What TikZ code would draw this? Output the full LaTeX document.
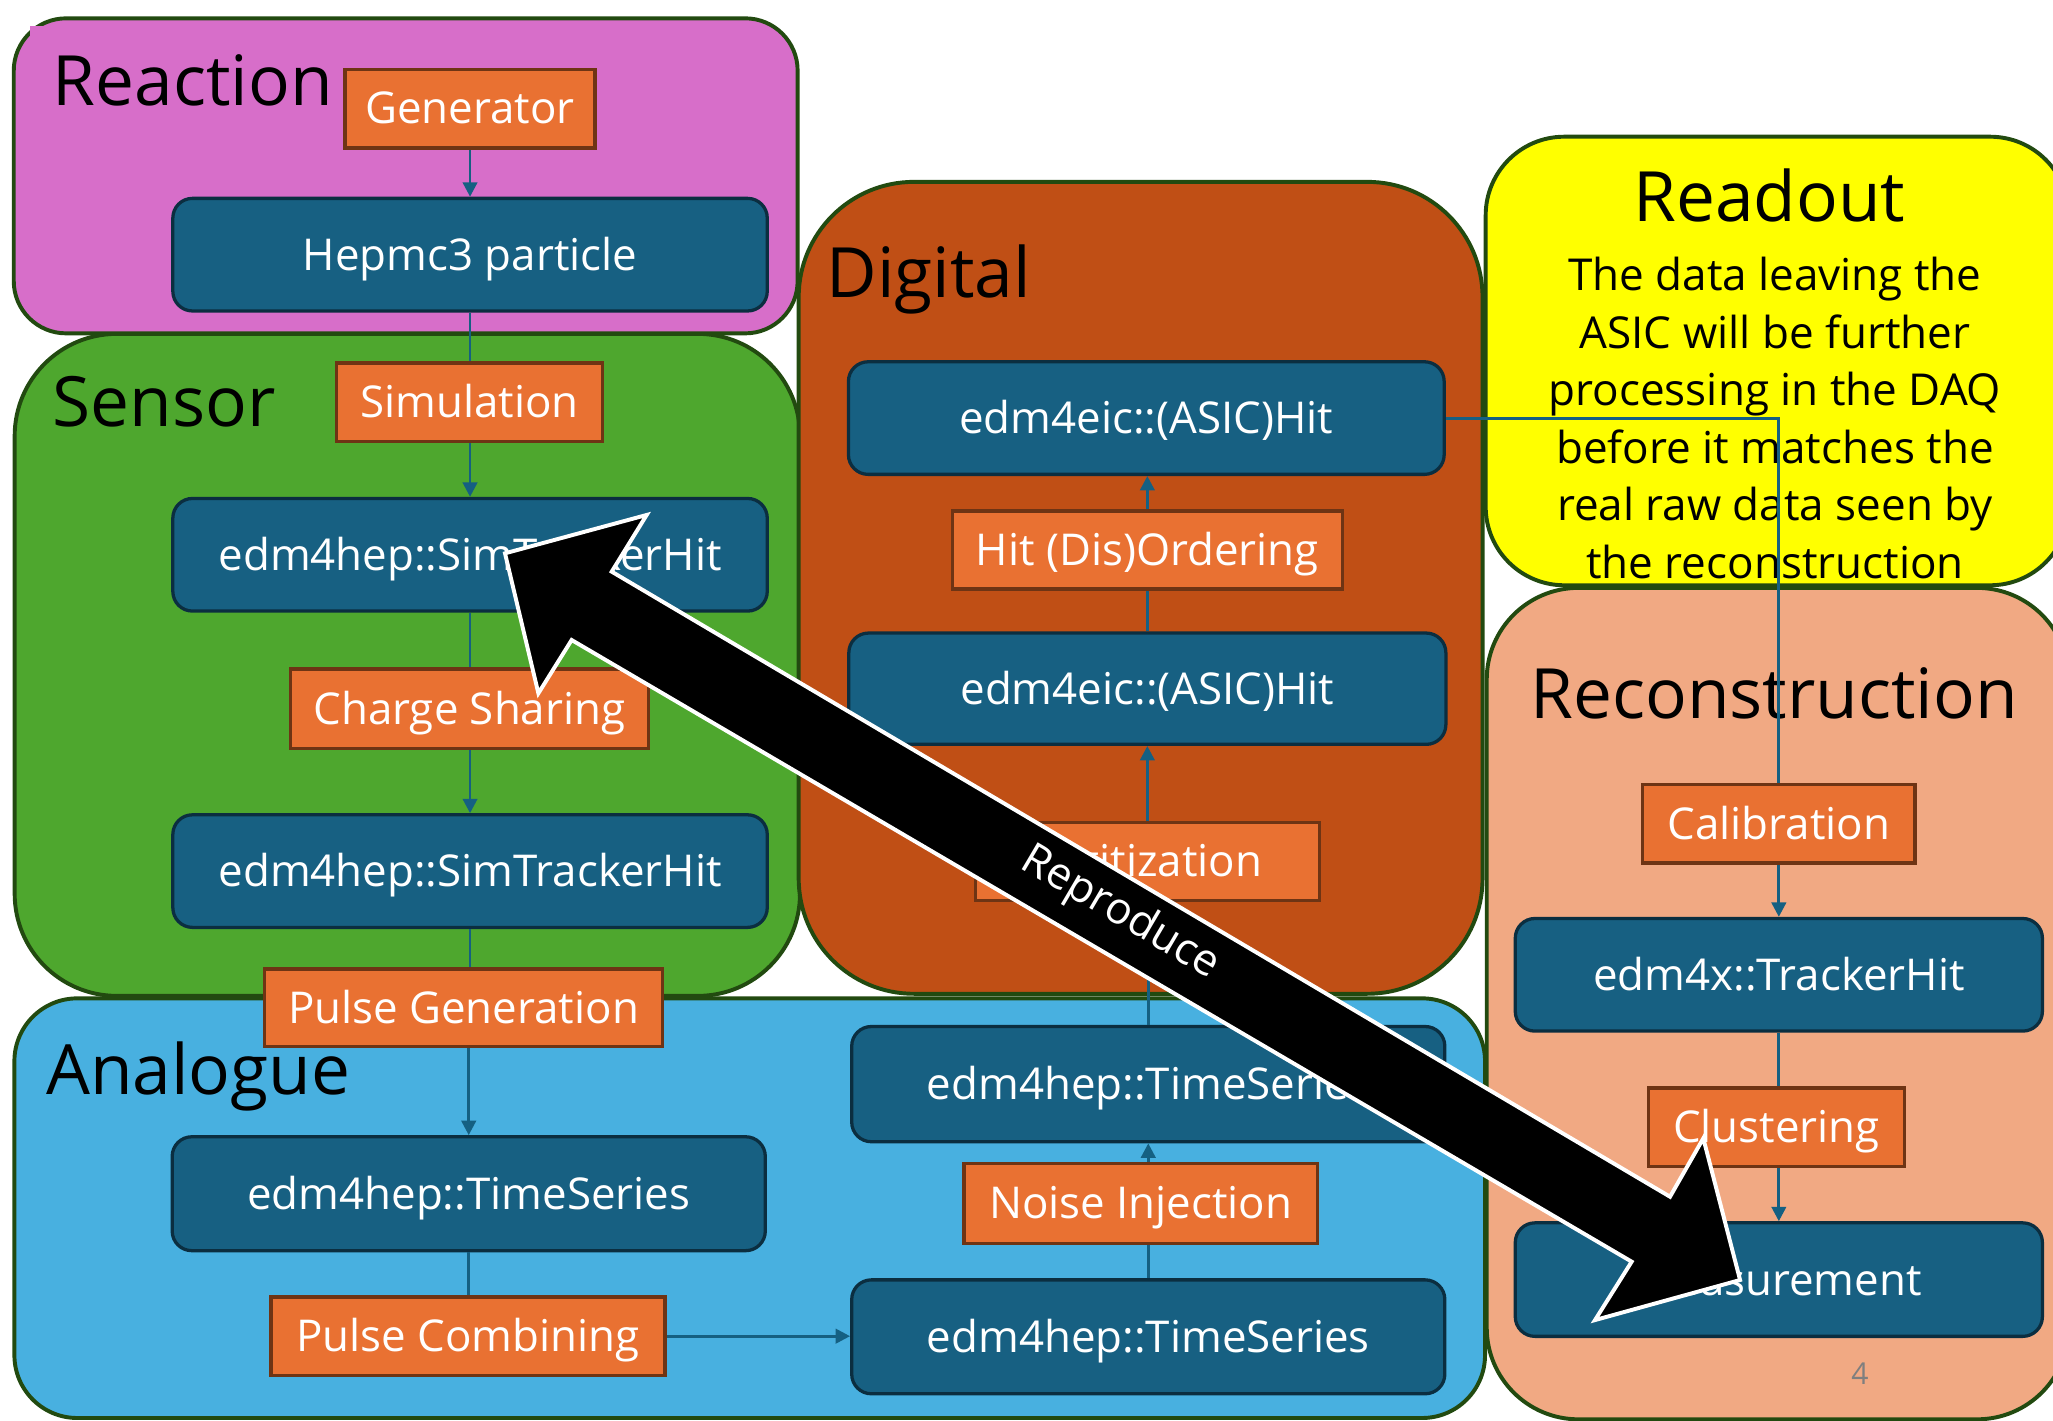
\documentclass[tikz,border=0pt]{standalone}
\usepackage{fontspec}
\setmainfont{Open Sans}
\usetikzlibrary{arrows.meta}
\definecolor{reactfill}{HTML}{D76EC9}
\definecolor{sensfill}{HTML}{4EA72E}
\definecolor{digifill}{HTML}{C04F15}
\definecolor{analfill}{HTML}{48B0E0}
\definecolor{readfill}{HTML}{FFFF00}
\definecolor{recofill}{HTML}{F1A983}
\definecolor{grpborder}{HTML}{224A10}
\definecolor{nodeblue}{HTML}{176082}
\definecolor{nodeborder}{HTML}{0B2E40}
\definecolor{procorange}{HTML}{E97132}
\definecolor{procborder}{HTML}{6E3414}
\definecolor{connblue}{HTML}{156082}
\definecolor{pagegray}{HTML}{7F7F7F}
\newcommand\lblf{\fontsize{33.5}{40}\selectfont}
\newcommand\ttlf{\fontsize{53}{60}\selectfont}
\newcommand\bodyf{\fontsize{33.6}{43.9}\selectfont}
\newcommand\pagef{\fontsize{23}{26}\selectfont}
\begin{document}
\begin{tikzpicture}[x=1pt,y=-1pt,
  group/.style={rectangle, draw=grpborder, line width=3pt, inner sep=0pt},
  datanode/.style={rectangle, rounded corners=15pt, fill=nodeblue, draw=nodeborder, line width=2.5pt, text=white, font=\lblf, inner sep=0pt, text height=31pt, text depth=7.2pt},
  proc/.style={rectangle, fill=procorange, draw=procborder, line width=2.5pt, text=white, font=\lblf, inner sep=0pt, text height=31pt, text depth=7.6pt},
  conn/.style={draw=connblue, line width=2.2pt},
  arr/.style={conn, -{Triangle[width=11pt,length=11pt]}},
  title/.style={font=\ttlf, text=black, inner sep=0pt}]
\useasboundingbox (0,0) rectangle (1568,1085);
\clip (0,0) rectangle (1568,1085);
% group boxes
\node[group, fill=sensfill, rounded corners=78pt, minimum width=599.8pt, minimum height=505.6pt] (sensor) at (311.1,507.8) {};
\node[group, fill=reactfill, rounded corners=40pt, minimum width=598.7pt, minimum height=240.6pt] (reaction) at (309.85,134.3) {};
\fill[reactfill] (23,20) rectangle (34,30);
\node[group, fill=digifill, rounded corners=88pt, minimum width=522.3pt, minimum height=620.1pt] (digital) at (871.15,448.95) {};
\node[group, fill=analfill, rounded corners=48pt, minimum width=1123.2pt, minimum height=320.5pt] (analogue) at (572.6,922.75) {};
\node[group, fill=readfill, rounded corners=60pt, minimum width=445.3pt, minimum height=342.6pt] (readout) at (1357.35,275.7) {};
\node[group, fill=recofill, rounded corners=70pt, minimum width=444.5pt, minimum height=635pt] (recon) at (1357.75,766.5) {};
% titles
\node[title, anchor=base west] (treaction) at (40,80.2) {Reaction};
\node[title, anchor=base west] (tsensor) at (40,325.8) {Sensor};
\node[title, anchor=base west] (tdigital) at (631,227) {Digital};
\node[title, anchor=base west] (tanalogue) at (35,836.3) {Analogue};
\node[title, anchor=base] (treadout) at (1351.3,169.3) {Readout};
\node[title, anchor=base] (trecon) at (1354.9,548.5) {Reconstruction};
\node[anchor=base, align=center, font=\bodyf, inner sep=0pt] (readtext) at (1355.6,441.7) {The data leaving the\\ASIC will be further\\processing in the DAQ\\before it matches the\\real raw data seen by\\the reconstruction};
% data nodes
\node[datanode, minimum width=454pt, minimum height=86pt] (hep) at (359,194.5) {Hepmc3 particle};
\node[datanode, minimum width=454pt, minimum height=86pt] (sim1) at (359,423.7) {edm4hep::SimTrackerHit};
\node[datanode, minimum width=454pt, minimum height=86pt] (sim2) at (359,665.3) {edm4hep::SimTrackerHit};
\node[datanode, minimum width=453pt, minimum height=87pt] (ts1) at (358,911.7) {edm4hep::TimeSeries};
\node[datanode, minimum width=453pt, minimum height=88pt] (ts3) at (877,828) {edm4hep::TimeSeries};
\node[datanode, minimum width=453pt, minimum height=87pt] (ts2) at (877,1021) {edm4hep::TimeSeries};
\node[datanode, minimum width=456pt, minimum height=85pt] (asic2) at (876.3,526) {edm4eic::(ASIC)Hit};
\node[datanode, minimum width=455pt, minimum height=86pt] (asic1) at (875.5,319.3) {edm4eic::(ASIC)Hit};
\node[datanode, minimum width=402.6pt, minimum height=86pt] (trk) at (1358.6,744.5) {edm4x::TrackerHit};
\node[datanode, minimum width=402.6pt, minimum height=86.7pt] (meas) at (1358.6,977.3) {Measurement};
% process nodes
\node[proc, minimum width=191pt, minimum height=60pt] (gen) at (359,83) {Generator};
\node[proc, minimum width=203pt, minimum height=60pt] (simu) at (358.5,307.2) {Simulation};
\node[proc, minimum width=273.6pt, minimum height=60.6pt] (charge) at (358.5,541.3) {Charge Sharing};
\node[proc, minimum width=303.5pt, minimum height=59.4pt] (pulsegen) at (354,769.7) {Pulse Generation};
\node[proc, minimum width=301pt, minimum height=60pt] (pulsecomb) at (357.4,1020.5) {Pulse Combining};
\node[proc, minimum width=270pt, minimum height=61pt] (noise) at (871.2,919) {Noise Injection};
\node[proc, minimum width=263pt, minimum height=59.5pt] (digit) at (876.3,658) {Digitization};
\node[proc, minimum width=298pt, minimum height=59.6pt] (hitdis) at (876.3,420.1) {Hit (Dis)Ordering};
\node[proc, minimum width=208pt, minimum height=59.7pt] (calib) at (1358.6,629.2) {Calibration};
\node[proc, minimum width=195.4pt, minimum height=60.2pt] (clust) at (1356.7,861) {Clustering};
% connectors
\draw[arr] (gen.south) -- (gen.south |- hep.north);
\draw[conn] (hep.south) -- (hep.south |- simu.north);
\draw[arr] (hep.south |- simu.south) -- (hep.south |- sim1.north);
\draw[conn] (sim1.south) -- (sim1.south |- charge.north);
\draw[arr] (sim1.south |- charge.south) -- (sim1.south |- sim2.north);
\draw[conn] (sim2.south) -- (sim2.south |- pulsegen.north);
\draw[arr] (ts1.north |- pulsegen.south) -- (ts1.north);
\draw[conn] (ts1.south) -- (ts1.south |- pulsecomb.north);
\draw[arr] (pulsecomb.east) -- (pulsecomb.east -| ts2.west);
\draw[conn] (ts2.north) -- (ts2.north |- noise.south);
\draw[arr] (ts2.north |- noise.north) -- (ts3.south);
\draw[conn] (ts3.north) -- (ts3.north |- digit.south);
\draw[arr] (digit.north) -- (digit.north |- asic2.south);
\draw[conn] (asic2.north) -- (asic2.north |- hitdis.south);
\draw[arr] (hitdis.north) -- (hitdis.north |- asic1.south);
\draw[conn] (asic1.east) -| (calib.north);
\draw[arr] (calib.south) -- (calib.south |- trk.north);
\draw[conn] (trk.south) -- (trk.south |- clust.north);
\draw[arr] (trk.south |- clust.south) -- (trk.south |- meas.north);
% page number
\node[text=pagegray, font=\pagef, inner sep=0pt] (pnum) at (1420.6,1049) {4};
% big double arrow
\filldraw[fill=black, draw=white, line width=3pt, line join=miter]
  (385.7,422.6) -- (493.9,393.3) -- (467.2,436.6) -- (1275.5,914) -- (1300.9,869.4)
  -- (1329,977.6) -- (1218.2,1008.2) -- (1246.2,963.6) -- (436.6,488.8) -- (411.2,529.5) -- cycle;
\node[rotate=-30.5, text=white, font=\lblf, inner sep=0pt] (repro) at (855.4,697.6) {Reproduce};
\end{tikzpicture}
\end{document}
